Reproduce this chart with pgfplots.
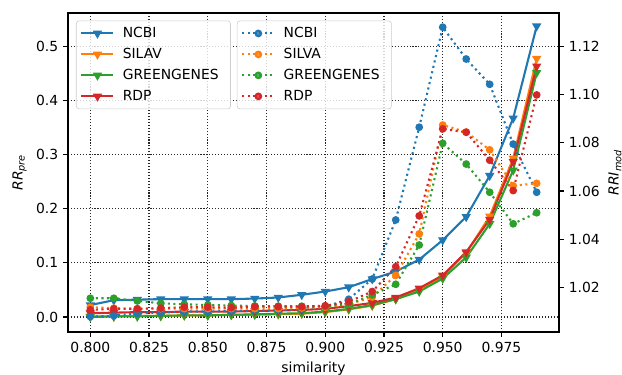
\documentclass[border=0pt]{standalone}
\usepackage{pgfplots}
\pgfplotsset{compat=1.18}
\usepackage{pgfplotstable}
\usepackage{fontspec}
\setmainfont{DejaVu Sans}
\definecolor{c0}{HTML}{1F77B4}
\definecolor{c1}{HTML}{FF7F0E}
\definecolor{c2}{HTML}{2CA02C}
\definecolor{c3}{HTML}{D62728}

\pgfplotstableread{
x ncbi silva green rdp
0.80 0.022 0.001 0.000 0.007
0.81 0.031 0.001 0.001 0.008
0.82 0.032 0.002 0.001 0.009
0.83 0.033 0.002 0.002 0.009
0.84 0.033 0.003 0.003 0.010
0.85 0.033 0.003 0.003 0.010
0.86 0.033 0.004 0.004 0.010
0.87 0.034 0.004 0.005 0.011
0.88 0.036 0.005 0.006 0.012
0.89 0.041 0.006 0.007 0.013
0.90 0.047 0.009 0.010 0.015
0.91 0.055 0.014 0.015 0.020
0.92 0.070 0.021 0.022 0.026
0.93 0.084 0.033 0.033 0.036
0.94 0.106 0.049 0.047 0.053
0.95 0.142 0.075 0.071 0.077
0.96 0.185 0.118 0.110 0.120
0.97 0.261 0.186 0.172 0.180
0.98 0.367 0.293 0.271 0.287
0.99 0.537 0.477 0.451 0.463
}\pre

\pgfplotstableread{
x ncbi silva green rdp
0.80 1.0079 1.0118 1.0155 1.0107
0.81 1.0083 1.0114 1.0155 1.0111
0.82 1.0093 1.0112 1.0144 1.0111
0.83 1.0095 1.0112 1.0134 1.0114
0.84 1.0100 1.0112 1.0130 1.0118
0.85 1.0100 1.0112 1.0127 1.0118
0.86 1.0102 1.0112 1.0125 1.0116
0.87 1.0104 1.0112 1.0123 1.0120
0.88 1.0106 1.0112 1.0122 1.0120
0.89 1.0110 1.0115 1.0122 1.0120
0.90 1.0120 1.0118 1.0122 1.0124
0.91 1.0151 1.0130 1.0130 1.0141
0.92 1.0235 1.0160 1.0169 1.0183
0.93 1.0480 1.0250 1.0213 1.0286
0.94 1.0865 1.0422 1.0376 1.0497
0.95 1.1280 1.0874 1.0798 1.0858
0.96 1.1148 1.0845 1.0712 1.0844
0.97 1.1043 1.0771 1.0595 1.0728
0.98 1.0795 1.0622 1.0464 1.0602
0.99 1.0595 1.0632 1.0510 1.0999
}\mod

\pgfplotsset{
  common/.style={
    scale only axis,
    width=353.52pt, height=229.68pt,
    xmin=0.7905, xmax=0.9995,
    tick align=outside,
    major tick length=3.5pt,
    every tick/.style={black, line width=0.8pt},
    axis line style={line width=0.8pt},
    /pgf/number format/assume math mode=true,
    legend cell align=left,
    legend style={
      draw=black!20, rounded corners=2pt, fill=white, fill opacity=0.8, text opacity=1,
      font=\fontsize{10}{12}\selectfont,
      anchor=north west,
      inner xsep=3pt, inner ysep=3pt,
      row sep=3.1pt,
      column sep=5pt,
      nodes={inner sep=1pt, text height=8pt, text depth=2pt},
    },
    legend image code/.code={%
      \draw[mark repeat=2,mark phase=2,#1] plot coordinates {(0pt,0pt) (11.5pt,0pt) (23pt,0pt)};},
  },
  solidl/.style={line width=1.5pt, mark=triangle*, mark size=2.4pt, mark options={rotate=180, solid}},
  dotl/.style={line width=1.5pt, dash pattern=on 1.5pt off 2.5pt, mark=*, mark size=2pt, mark options={solid}},
}

\begin{document}
\begin{tikzpicture}
\begin{axis}[
  common,
  ymin=-0.0277, ymax=0.5613,
  xtick={0.8,0.825,0.85,0.875,0.9,0.925,0.95,0.975},
  xticklabels={0.800,0.825,0.850,0.875,0.900,0.925,0.950,0.975},
  ytick={0,0.1,0.2,0.3,0.4,0.5},
  yticklabels={0.0,0.1,0.2,0.3,0.4,0.5},
  xtick pos=bottom, ytick pos=left,
  grid=major,
  grid style={black!85, line width=0.8pt, dash pattern=on 0.8pt off 1.32pt},
  xlabel={similarity},
  ylabel={\textit{RR}\textsubscript{\textit{pre}}},
  legend style={at={(rel axis cs:0.0163,0.976)}},
]
\addplot[solidl, color=c0] table[x=x,y=ncbi] {\pre};
\addlegendentry{NCBI}
\addplot[solidl, color=c1] table[x=x,y=silva] {\pre};
\addlegendentry{SILAV}
\addplot[solidl, color=c2] table[x=x,y=green] {\pre};
\addlegendentry{GREENGENES\kern4.5pt\null}
\addplot[solidl, color=c3] table[x=x,y=rdp] {\pre};
\addlegendentry{RDP}
\end{axis}
\begin{axis}[
  common,
  ymin=1.0015, ymax=1.1339,
  axis x line=none,
  axis y line*=right,
  yticklabel pos=right,
  ytick={1.02,1.04,1.06,1.08,1.10,1.12},
  yticklabels={1.02,1.04,1.06,1.08,1.10,1.12},
  ylabel={\textit{RRI}\textsubscript{\textit{mod}}},
  every axis y label/.style={at={(rel axis cs:1,0.5)}, rotate=90, anchor=north, inner sep=0pt, yshift=-35.5pt},
  legend style={at={(rel axis cs:0.344,0.976)}},
]
\addplot[dotl, color=c0] table[x=x,y=ncbi] {\mod};
\addlegendentry{NCBI}
\addplot[dotl, color=c1] table[x=x,y=silva] {\mod};
\addlegendentry{SILVA}
\addplot[dotl, color=c2] table[x=x,y=green] {\mod};
\addlegendentry{GREENGENES\kern4.5pt\null}
\addplot[dotl, color=c3] table[x=x,y=rdp] {\mod};
\addlegendentry{RDP}
\end{axis}
\pgfresetboundingbox
\useasboundingbox (-48.96pt,-30.96pt) rectangle (398.88pt,239.04pt);
\end{tikzpicture}
\end{document}
